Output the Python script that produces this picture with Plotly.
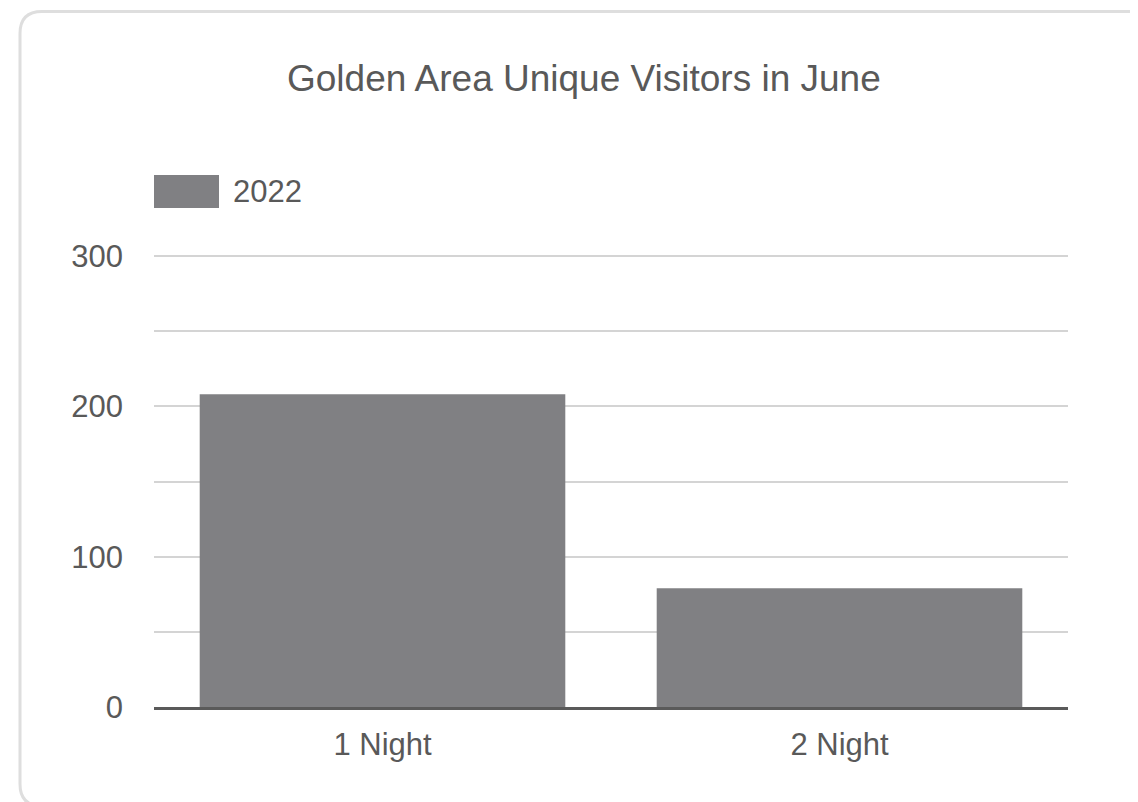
import plotly.graph_objects as go

# data
categories = ["1 Night", "2 Night"]
visitors_2022 = [208, 79]
series_name = "2022"
y_ticks = [0, 100, 200, 300]

W, H = 1138, 802
OFF = 8  # default body margin of the html page
Y_TOP = 304  # a little headroom so the 300 grid line is kept
# plot area in page pixels: left 154, right 1068, bottom 707; 300 lands at y=256
plot_w = 1068 - 154
plot_h = (707 - 256) * Y_TOP / 300
top_px = 707 - plot_h
L, R, T, B = 154 - OFF, W + OFF - 1068, top_px - OFF, H + OFF - 707

FONT = "Liberation Sans, Arial, sans-serif"
TEXT = "#595959"
BAR = "#808083"
GRID = "#d4d4d4"


def px_x(x):
    # page pixel -> paper
    return (x - 154) / plot_w


def px_y(y):
    return (707 - y) / plot_h


fig = go.Figure()
fig.add_trace(go.Bar(
    x=categories,
    y=visitors_2022,
    name=series_name,
    marker=dict(color=BAR, line=dict(width=0)),
    showlegend=False,
))

# card outline with rounded corners
r = 22
x0, y0, x1, y1 = 20, 11.5, 1160, 806
path = (
    f"M {px_x(x1)},{px_y(y0)} "
    f"L {px_x(x0 + r)},{px_y(y0)} "
    f"Q {px_x(x0)},{px_y(y0)} {px_x(x0)},{px_y(y0 + r)} "
    f"L {px_x(x0)},{px_y(y1 - r)} "
    f"Q {px_x(x0)},{px_y(y1)} {px_x(x0 + r)},{px_y(y1)} "
    f"L {px_x(x1)},{px_y(y1)}"
)
fig.add_shape(type="path", path=path, xref="paper", yref="paper",
              line=dict(color="#dedede", width=3), layer="below")

# legend swatch + label
fig.add_shape(type="rect", xref="paper", yref="paper",
              x0=px_x(154), x1=px_x(219), y0=px_y(208), y1=px_y(175),
              fillcolor=BAR, line=dict(width=0))
fig.add_annotation(x=px_x(231), y=px_y(191), xref="paper", yref="paper",
                   text=series_name, showarrow=False, xanchor="left", yanchor="middle",
                   font=dict(family=FONT, size=31, color=TEXT))

# title
fig.add_annotation(x=px_x(584), y=px_y(78), xref="paper", yref="paper",
                   text="Golden Area Unique Visitors in June", showarrow=False,
                   xanchor="center", yanchor="middle",
                   font=dict(family=FONT, size=37, color=TEXT))

fig.update_layout(
    width=W, height=H,
    paper_bgcolor="white", plot_bgcolor="white",
    margin=dict(l=L, r=R, t=T, b=B, autoexpand=False),
    bargap=0.2,
    font=dict(family=FONT, size=31, color=TEXT),
    showlegend=False,
)
fig.update_xaxes(
    showline=True, linecolor="#5a5a5a", linewidth=3,
    showgrid=False, ticks="", ticklabelstandoff=8,
    tickfont=dict(family=FONT, size=31, color=TEXT),
)
fig.update_yaxes(
    range=[0, Y_TOP], tickvals=y_ticks, showline=False, zeroline=False,
    showgrid=True, gridcolor=GRID, gridwidth=2,
    minor=dict(dtick=50, tick0=0, showgrid=True, gridcolor=GRID, gridwidth=2),
    ticks="", ticklabelstandoff=30,
    tickfont=dict(family=FONT, size=31, color=TEXT),
)

fig.write_html("out.html")
